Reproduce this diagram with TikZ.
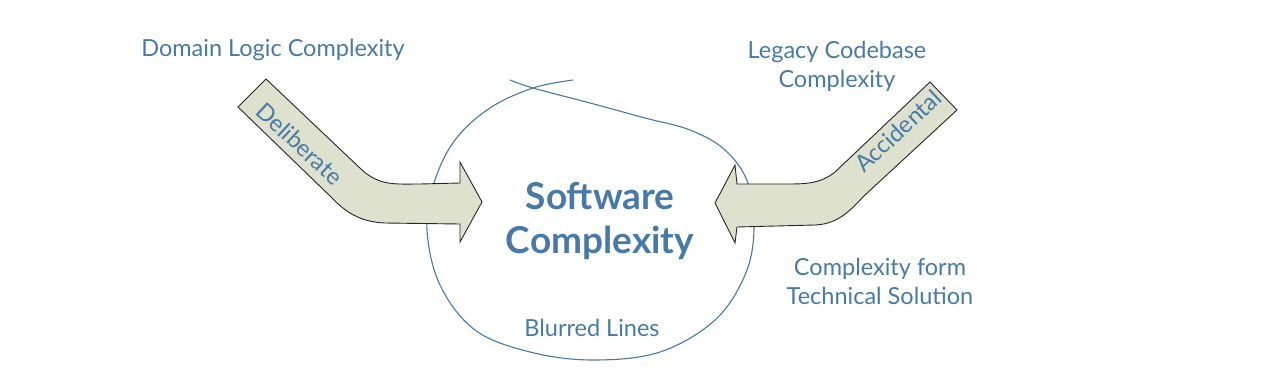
\documentclass[tikz,border=0pt]{standalone}
\usepackage{fontspec}
\setmainfont{Lato}
\definecolor{txtblue}{RGB}{72,122,168}
\definecolor{lineblue}{RGB}{70,120,170}
\definecolor{arrowfill}{RGB}{221,225,205}
\begin{document}
\begin{tikzpicture}[x=1pt,y=-1pt,
  lbl/.style={text=txtblue,font=\fontsize{23.5}{29}\selectfont,align=center,inner sep=0pt},
  big/.style={text=txtblue,font=\fontsize{37}{44}\selectfont\bfseries,align=center,inner sep=0pt},
  fatarrow/.style={draw=black!85,fill=arrowfill,line width=0.9pt,line join=miter},
  blob/.style={draw=lineblue,line width=1.1pt}]
\useasboundingbox (0,0) rectangle (1280,378);
% blob
\draw[blob] plot[smooth,tension=0.6] coordinates {(573,80) (533,88) (490,108) (455,140) (434,183) (427,230) (440,285) (475,330) (530,352) (593,360) (660,352) (715,320) (745,275) (754,230) (748,183) (725,150) (690,130) (645,118) (590,103) (533,88) (510,80)};
% left arrow
\draw[fatarrow] (238,107) -- (266,79) -- (362,170) .. controls (380,186) and (395,184) .. (420,184) -- (460,183) -- (460,162) -- (482,202) -- (460,242) -- (460,224) -- (385,223) .. controls (360,222) and (345,212) .. (330,196) -- cycle;
% right arrow
\draw[fatarrow] (957,110) -- (930,82) -- (835,172) .. controls (820,184) and (805,184) .. (785,184) -- (737,184) -- (735,165) -- (715,203) -- (735,243) -- (737,227) -- (815,225) .. controls (840,224) and (852,208) .. (865,195) -- cycle;
% labels
\node[lbl] (dom) at (273,50) {Domain Logic Complexity};
\node[lbl] (leg) at (837,66) {Legacy Codebase\\Complexity};
\node[lbl] (tec) at (880,281) {Complexity form\\Technical Solution};
\node[lbl] (blur) at (592,328) {Blurred Lines};
\node[big] (sw) at (600,221) {Software\\Complexity};
\node[lbl,rotate=-43] (del) at (300,144) {Deliberate};
\node[lbl,rotate=43] (acc) at (898,131) {Accidental};
\end{tikzpicture}
\end{document}
